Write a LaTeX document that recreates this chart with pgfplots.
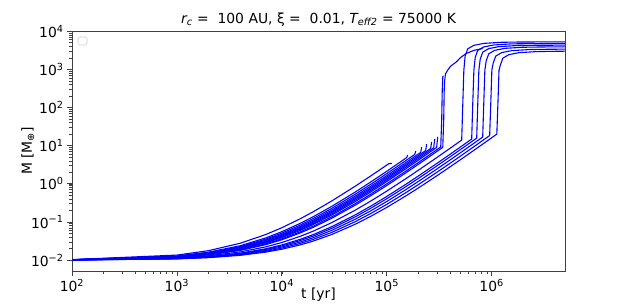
\documentclass[border=0pt]{standalone}
\usepackage{fontspec}
\setmainfont{DejaVu Sans}
\usepackage{pgfplots}
\pgfplotsset{compat=1.18}
\begin{document}
\begin{tikzpicture}
\path[use as bounding box] (-72pt,-35pt) rectangle (550pt,271pt);
\begin{axis}[
  at={(0pt,0pt)}, anchor=south west,
  scale only axis, width=493pt, height=240pt,
  xmode=log, ymode=log,
  xmin=100, xmax=5e6, ymin=5.2e-3, ymax=1.01e4,
  font=\fontsize{13.9}{16}\selectfont,
  axis line style={black!75, line width=0.8pt},
  tick align=outside, xtick pos=bottom, ytick pos=left,
  major tick length=4.9pt, minor tick length=2.8pt,
  every tick/.style={black!75, line width=0.8pt},
  every minor tick/.style={black!75, line width=0.6pt},
  xtick={1e2,1e3,1e4,1e5,1e6},
  xticklabels={10\textsuperscript{2},10\textsuperscript{3},10\textsuperscript{4},10\textsuperscript{5},10\textsuperscript{6}},
  ytick={1e-2,1e-1,1,1e1,1e2,1e3,1e4},
  yticklabels={10\textsuperscript{−2},10\textsuperscript{−1},10\textsuperscript{0},10\textsuperscript{1},10\textsuperscript{2},10\textsuperscript{3},10\textsuperscript{4}},
  xlabel={t [yr]}, ylabel={M [M\textsubscript{⊕}]},
  xlabel style={yshift=11pt}, ylabel style={yshift=-10pt},
  title={{\itshape r}\textsubscript{\itshape c} =\ \ 100 AU, ξ =\ \ 0.01, {\itshape T}\textsubscript{\itshape eff2} = 75000 K},
  title style={yshift=-5pt},
  mycurve/.style={color=blue, solid, line width=1.1pt, line join=round, mark=none},
]
% Group A
\addplot[mycurve] coordinates {(1e2,0.010335)(1e3,0.013596)(2e3,0.017742)(4e3,0.02769)(7e3,0.04674)(1e4,0.07076)(1.5e4,0.1218)(2e4,0.1866)(3e4,0.3576)(5e4,0.8649)(7e4,1.593)(1e5,3.098)(1.04e5,3.35)(1.12e5,3.45)};
\addplot[mycurve] coordinates {(1e2,0.010274)(1e3,0.012905)(2e3,0.01618)(4e3,0.02384)(7e3,0.0381)(1e4,0.0557)(1.5e4,0.0924)(2e4,0.1384)(3e4,0.2581)(5e4,0.6084)(7e4,1.107)(1e5,2.132)(1.55e5,4.875)(1.585e5,5.7)};
\addplot[mycurve] coordinates {(1e2,0.010254)(1e3,0.012679)(2e3,0.015675)(4e3,0.02262)(7e3,0.03542)(1e4,0.05108)(1.5e4,0.08352)(2e4,0.1239)(3e4,0.2285)(5e4,0.5329)(7e4,0.9643)(1e5,1.8496)(1.5e5,3.960)(1.85e5,5.91)(1.89e5,7.2)};
\addplot[mycurve] coordinates {(1e2,0.010237)(1e3,0.012499)(2e3,0.015277)(4e3,0.021668)(7e3,0.03334)(1e4,0.04752)(1.5e4,0.07673)(2e4,0.1129)(3e4,0.2061)(5e4,0.4761)(7e4,0.8575)(1e5,1.6384)(1.5e5,3.497)(2.11e5,6.708)(2.15e5,9.2)};
\addplot[mycurve] coordinates {(1e2,0.010225)(1e3,0.012365)(2e3,0.014982)(4e3,0.020967)(7e3,0.031827)(1e4,0.044944)(1.5e4,0.071824)(2e4,0.104976)(3e4,0.1901)(5e4,0.4356)(7e4,0.7815)(1e5,1.4884)(1.5e5,3.1684)(2e5,5.4756)(2.35e5,7.464)(2.40e5,11)};
\addplot[mycurve] coordinates {(1e2,0.010215)(1e3,0.012254)(2e3,0.014738)(4e3,0.020392)(7e3,0.03059)(1e4,0.042849)(1.5e4,0.06786)(2e4,0.0986)(3e4,0.17724)(5e4,0.4032)(7e4,0.7208)(1e5,1.3689)(1.5e5,2.907)(2e5,5.0176)(2.62e5,8.427)(2.68e5,12.6)};
\addplot[mycurve] coordinates {(1e2,0.010205)(1e3,0.012144)(2e3,0.014496)(4e3,0.019825)(7e3,0.029378)(1e4,0.040804)(1.5e4,0.064009)(2e4,0.092416)(3e4,0.164836)(5e4,0.3721)(7e4,0.6626)(1e5,1.2544)(1.5e5,2.6569)(2e5,4.5796)(2.80e5,8.738)(2.87e5,14.9)};
\addplot[mycurve] coordinates {(1e2,0.010195)(1e3,0.012034)(2e3,0.014256)(4e3,0.019265)(7e3,0.02819)(1e4,0.038809)(1.5e4,0.06027)(2e4,0.086436)(3e4,0.152881)(5e4,0.342225)(7e4,0.6068)(1e5,1.1449)(1.5e5,2.418)(2e5,4.1616)(2.99e5,9.002)(3.06e5,17.1)};
\addplot[mycurve] coordinates {(1e2,0.010181)(1e3,0.011881)(2e3,0.013924)(4e3,0.018496)(7e3,0.026569)(1e4,0.0361)(1.5e4,0.055225)(2e4,0.0784)(3e4,0.1369)(5e4,0.3025)(7e4,0.5329)(1e5,1.0)(1.5e5,2.1025)(2e5,3.61)(3e5,7.84)(3.27e5,9.26)(3.34e5,46.8)(3.38e5,286)(3.42e5,630)(3.46e5,680)};
\addplot[mycurve] coordinates {(1e2,0.010171)(1e3,0.011772)(2e3,0.013689)(4e3,0.017956)(7e3,0.02544)(1e4,0.034225)(1.5e4,0.051756)(2e4,0.0729)(3e4,0.126)(5e4,0.275625)(7e4,0.483)(1e5,0.9025)(1.5e5,1.8906)(2e5,3.24)(3e5,7.0225)(3.42e5,9.042)(3.49e5,46.8)(3.53e5,286)(3.56e5,500)(3.63e5,760)(3.81e5,953)(4.07e5,1213)(4.61e5,1570)(5.1e5,2080)(5.74e5,2610)(6.8e5,3150)(8.21e5,3520)};
% Group B
\addplot[mycurve] coordinates {(1e2,0.010141)(1e3,0.011455)(2e3,0.01301)(4e3,0.016415)(7e3,0.022264)(1e4,0.029002)(1.5e4,0.04221)(2e4,0.057888)(3e4,0.096659)(5e4,0.20385)(7e4,0.35058)(1e5,0.6448)(1.5e5,1.3329)(2e5,2.268)(3e5,4.8797)(4e5,8.4797)(5.18e5,14.0)(5.32e5,156)(5.43e5,953)(5.59e5,2253)(5.91e5,3437)(6.74e5,4244)(8.39e5,4784)(1.245e6,5114)(1.931e6,5209)(5e6,5240)};
\addplot[mycurve] coordinates {(1e2,0.010116)(1e3,0.0112)(2e3,0.012468)(4e3,0.015208)(7e3,0.019827)(1e4,0.025059)(1.5e4,0.035138)(2e4,0.046916)(3e4,0.07557)(5e4,0.15327)(7e4,0.25817)(1e5,0.46649)(1.5e5,0.94965)(2e5,1.6028)(3e5,3.4188)(4e5,5.9146)(5e5,9.0902)(6.45e5,14.9)(6.62e5,156)(6.77e5,953)(6.97e5,2047)(7.36e5,3123)(8.39e5,3856)(1.045e6,4346)(1.551e6,4646)(2.405e6,4731)(5e6,4760)};
\addplot[mycurve] coordinates {(1e2,0.010108)(1e3,0.011105)(2e3,0.012268)(4e3,0.014767)(7e3,0.01895)(1e4,0.023654)(1.5e4,0.032652)(2e4,0.043098)(3e4,0.06833)(5e4,0.136161)(7e4,0.22715)(1e5,0.407)(1.5e5,0.82265)(2e5,1.383)(3e5,2.9378)(4e5,5.0715)(5e5,7.7841)(6e5,11.076)(7.2e5,15.79)(7.39e5,156)(7.55e5,953)(7.78e5,1849)(8.22e5,2821)(9.37e5,3483)(1.166e6,3926)(1.731e6,4197)(2.684e6,4274)(5e6,4300)};
\addplot[mycurve] coordinates {(1e2,0.010098)(1e3,0.010998)(2e3,0.012043)(4e3,0.014276)(7e3,0.01798)(1e4,0.022112)(1.5e4,0.029946)(2e4,0.038967)(3e4,0.060565)(5e4,0.117992)(7e4,0.194393)(1e5,0.344569)(1.5e5,0.68973)(2e5,1.153476)(3e5,2.4367)(4e5,4.1943)(5e5,6.4262)(6.5e5,10.6635)(8.21e5,16.79)(8.43e5,156)(8.61e5,953)(8.87e5,1668)(9.37e5,2545)(1.068e6,3143)(1.33e6,3542)(1.974e6,3787)(3.061e6,3857)(5e6,3880)};
\addplot[mycurve] coordinates {(1e2,0.010088)(1e3,0.010895)(2e3,0.011829)(4e3,0.013811)(7e3,0.017072)(1e4,0.020678)(1.5e4,0.027456)(2e4,0.035194)(3e4,0.053546)(5e4,0.101761)(7e4,0.165324)(1e5,0.289444)(1.5e5,0.573049)(2e5,0.952576)(3e5,1.9994)(4e5,3.4299)(5e5,5.2441)(7e5,10.0236)(9.57e5,18.42)(9.83e5,156)(1.004e6,953)(1.034e6,1453)(1.092e6,2217)(1.245e6,2738)(1.55e6,3086)(2.301e6,3299)(3.568e6,3360)(5e6,3380)};
\addplot[mycurve] coordinates {(1e2,0.010078)(1e3,0.010797)(2e3,0.011625)(4e3,0.013373)(7e3,0.016223)(1e4,0.019349)(1.5e4,0.02517)(2e4,0.031755)(3e4,0.047219)(5e4,0.08732)(7e4,0.139652)(1e5,0.241081)(1.5e5,0.47128)(2e5,0.777924)(3e5,1.620529)(4e5,2.7689)(5e5,4.223)(7e5,8.0486)(9e5,13.097)(1.12e6,20.06)(1.15e6,156)(1.175e6,953)(1.21e6,1286)(1.278e6,1961)(1.457e6,2422)(1.814e6,2730)(2.692e6,2918)(4.175e6,2972)(5e6,2990)};
\draw[black!20, line width=0.6pt, rounded corners=1.5pt] ([xshift=6pt,yshift=-6pt]rel axis cs:0,1) rectangle ([xshift=15pt,yshift=-14pt]rel axis cs:0,1);
\end{axis}
\end{tikzpicture}
\end{document}
